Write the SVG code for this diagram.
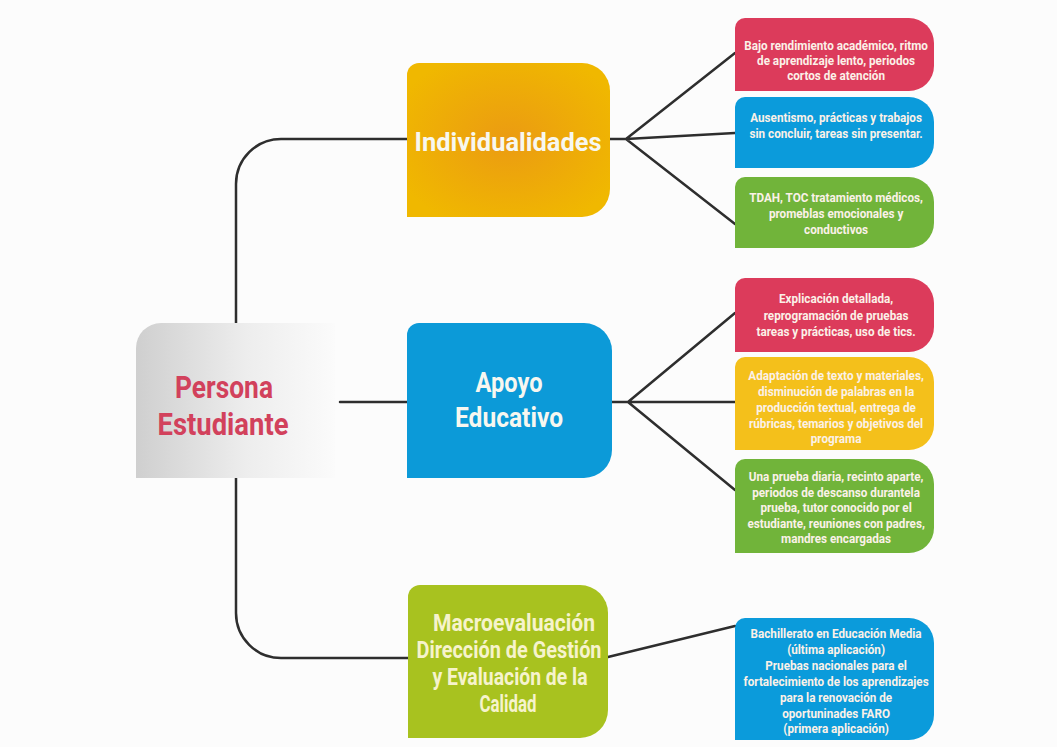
<svg xmlns="http://www.w3.org/2000/svg" width="1057" height="747" viewBox="0 0 1057 747">
<defs>
<linearGradient id="gGrey" x1="0" y1="0" x2="1" y2="0">
<stop offset="0" stop-color="#cfcfcf"/>
<stop offset="0.55" stop-color="#ededed"/>
<stop offset="1" stop-color="#fbfbfb"/>
</linearGradient>
<radialGradient id="gYel" cx="0.5" cy="0.5" r="0.6">
<stop offset="0" stop-color="#eb9b12"/>
<stop offset="1" stop-color="#f0b800"/>
</radialGradient>
<style>
.ln{fill:none;stroke:#2e2e2e;stroke-width:2.5;stroke-linecap:round;stroke-linejoin:round}
.t{font-family:Roboto,"Liberation Sans",sans-serif;font-weight:bold;text-anchor:middle}
.s{font-size:13px;fill:#fbf1e8}
.big{font-size:25px;fill:#f7f7f0}
.mac{font-size:23px;fill:#f6f3cc}
.pe{font-size:31px;fill:#d2415c}
</style>
</defs>
<rect width="1057" height="747" fill="#fcfcfc"/>
<g id="connectors">
<path class="ln" d="M236,323 V184 A45,45 0 0 1 281,139 H408"/>
<path class="ln" d="M236,478 V613 A45,45 0 0 0 281,658 H408"/>
<path class="ln" d="M340,402 H408"/>
<path class="ln" d="M610,139 H626 L735,53 M626,139 L735,133 M626,139 L735,224"/>
<path class="ln" d="M612,402 H628 L735,313 M628,402 L735,402 M628,402 L735,490"/>
<path class="ln" d="M608,657 L735,626"/>
</g>
<g id="persona">
<path d="M161,323 H335 V478 H136 V348 A25,25 0 0 1 161,323 Z" fill="url(#gGrey)"/>
<text class="t pe" x="224" y="398" textLength="98" lengthAdjust="spacingAndGlyphs">Persona</text>
<text class="t pe" x="223" y="435" textLength="131" lengthAdjust="spacingAndGlyphs">Estudiante</text>
</g>
<g id="individualidades">
<path d="M419,63 H582 A28,28 0 0 1 610,91 V189 A28,28 0 0 1 582,217 H407 V75 A12,12 0 0 1 419,63 Z" fill="url(#gYel)"/>
<text class="t big" x="508" y="151" textLength="187" lengthAdjust="spacingAndGlyphs">Individualidades</text>
</g>
<g id="apoyo">
<path d="M419,323 H584 A28,28 0 0 1 612,351 V450 A28,28 0 0 1 584,478 H407 V335 A12,12 0 0 1 419,323 Z" fill="#0c9ad8"/>
<text class="t big" x="509" y="392" textLength="67" lengthAdjust="spacingAndGlyphs" style="font-size:27px">Apoyo</text>
<text class="t big" x="509" y="427" textLength="108" lengthAdjust="spacingAndGlyphs" style="font-size:27px">Educativo</text>
</g>
<g id="macro">
<path d="M420,585 H580 A28,28 0 0 1 608,613 V710 A28,28 0 0 1 580,738 H408 V597 A12,12 0 0 1 420,585 Z" fill="#a8c21f"/>
<text class="t mac" x="514" y="631" textLength="162" lengthAdjust="spacingAndGlyphs">Macroevaluación</text>
<text class="t mac" x="509" y="658" textLength="185" lengthAdjust="spacingAndGlyphs">Dirección de Gestión</text>
<text class="t mac" x="510" y="685" textLength="155" lengthAdjust="spacingAndGlyphs">y Evaluación de la</text>
<text class="t mac" x="508" y="712" textLength="57" lengthAdjust="spacingAndGlyphs">Calidad</text>
</g>
<g id="ind1">
<path d="M745,18 H909 A25,25 0 0 1 934,43 V66 A25,25 0 0 1 909,91 H735 V28 A10,10 0 0 1 745,18 Z" fill="#dc3b5b"/>
<g transform="scale(0.9,1)">
<text class="t s" x="929" y="50">Bajo rendimiento académico, ritmo</text>
<text class="t s" x="929" y="65">de aprendizaje lento, periodos</text>
<text class="t s" x="929" y="80">cortos de atención</text>
</g>
</g>
<g id="ind2">
<path d="M745,97 H909 A25,25 0 0 1 934,122 V143 A25,25 0 0 1 909,168 H735 V107 A10,10 0 0 1 745,97 Z" fill="#0b9bdb"/>
<g transform="scale(0.9,1)">
<text class="t s" x="929" y="122">Ausentismo, prácticas y trabajos</text>
<text class="t s" x="929" y="138">sin concluir, tareas sin presentar.</text>
</g>
</g>
<g id="ind3">
<path d="M745,177 H909 A25,25 0 0 1 934,202 V223 A25,25 0 0 1 909,248 H735 V187 A10,10 0 0 1 745,177 Z" fill="#71b43a"/>
<g transform="scale(0.9,1)">
<text class="t s" x="929" y="202">TDAH, TOC tratamiento médicos,</text>
<text class="t s" x="929" y="218">promeblas emocionales y</text>
<text class="t s" x="929" y="234">conductivos</text>
</g>
</g>
<g id="apo1">
<path d="M745,278 H909 A25,25 0 0 1 934,303 V327 A25,25 0 0 1 909,352 H735 V288 A10,10 0 0 1 745,278 Z" fill="#dc3b5b"/>
<g transform="scale(0.9,1)">
<text class="t s" x="929" y="303">Explicación detallada,</text>
<text class="t s" x="929" y="320">reprogramación de pruebas</text>
<text class="t s" x="929" y="336">tareas y prácticas, uso de tics.</text>
</g>
</g>
<g id="apo2">
<path d="M745,357 H909 A25,25 0 0 1 934,382 V425 A25,25 0 0 1 909,450 H735 V367 A10,10 0 0 1 745,357 Z" fill="#f4c01b"/>
<g transform="scale(0.9,1)">
<text class="t s" x="929" y="380">Adaptación de texto y materiales,</text>
<text class="t s" x="929" y="396">disminución de palabras en la</text>
<text class="t s" x="929" y="412">producción textual, entrega de</text>
<text class="t s" x="929" y="428">rúbricas, temarios y objetivos del</text>
<text class="t s" x="929" y="443">programa</text>
</g>
</g>
<g id="apo3">
<path d="M745,459 H909 A25,25 0 0 1 934,484 V528 A25,25 0 0 1 909,553 H735 V469 A10,10 0 0 1 745,459 Z" fill="#71b43a"/>
<g transform="scale(0.9,1)">
<text class="t s" x="929" y="481">Una prueba diaria, recinto aparte,</text>
<text class="t s" x="929" y="497">periodos de descanso durantela</text>
<text class="t s" x="929" y="512">prueba, tutor conocido por el</text>
<text class="t s" x="929" y="528">estudiante, reuniones con padres,</text>
<text class="t s" x="929" y="543">mandres encargadas</text>
</g>
</g>
<g id="mac1">
<path d="M745,618 H909 A25,25 0 0 1 934,643 V715 A25,25 0 0 1 909,740 H735 V628 A10,10 0 0 1 745,618 Z" fill="#0b9bdb"/>
<g transform="scale(0.9,1)">
<text class="t s" x="929" y="638">Bachillerato en Educación Media</text>
<text class="t s" x="929" y="654">(última aplicación)</text>
<text class="t s" x="929" y="670">Pruebas nacionales para el</text>
<text class="t s" x="929" y="686">fortalecimiento de los aprendizajes</text>
<text class="t s" x="929" y="702">para la renovación de</text>
<text class="t s" x="929" y="718">oportuninades FARO</text>
<text class="t s" x="929" y="733">(primera aplicación)</text>
</g>
</g>
</svg>
